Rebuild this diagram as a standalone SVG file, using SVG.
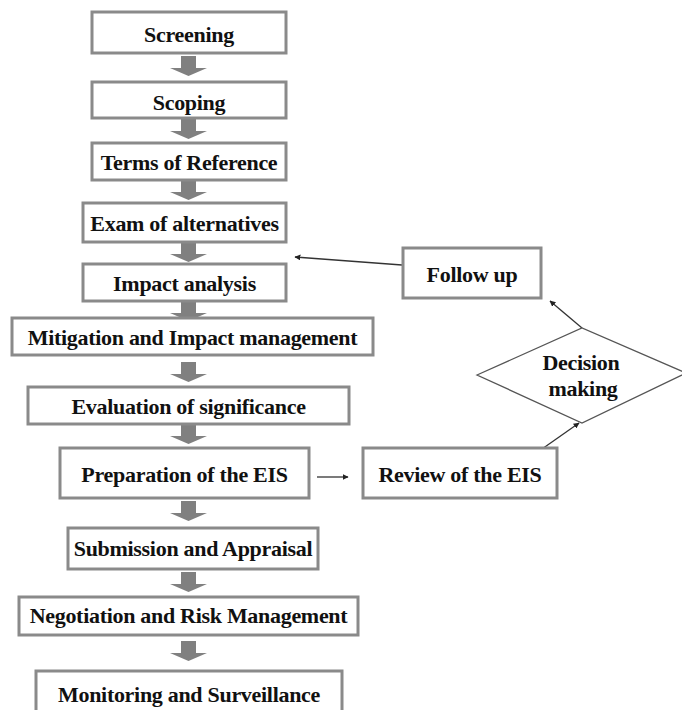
<svg xmlns="http://www.w3.org/2000/svg" xmlns:xlink="http://www.w3.org/1999/xlink" width="682" height="710" viewBox="0 0 682 710">
<style>
.box{fill:#fff;stroke:#8a8a8a;stroke-width:3}
.t{font-family:"Liberation Serif","Times New Roman",serif;font-weight:bold;font-size:22px;letter-spacing:-0.3px;fill:#111;text-anchor:middle}
.ln{stroke:#333;stroke-width:1.3;fill:none;marker-end:url(#ah)}
.dm{fill:#fff;stroke:#555;stroke-width:1.3}
</style>
<defs>
<marker id="ah" viewBox="0 0 10 10" refX="9" refY="5" markerWidth="6" markerHeight="6" markerUnits="userSpaceOnUse" orient="auto">
<path d="M0,0 L10,5 L0,10 z" fill="#222"/>
</marker>
<path id="blk" d="M181,0 h15 v12 h11 l-18.5,8 l-18.5,-8 h11 z" fill="#808080"/>
</defs>
<rect width="682" height="710" fill="#fff"/>
<g id="connectors">
<use xlink:href="#blk" transform="translate(0,56)"/>
<use xlink:href="#blk" transform="translate(0,119)"/>
<use xlink:href="#blk" transform="translate(0,180)"/>
<use xlink:href="#blk" transform="translate(0,242)"/>
<use xlink:href="#blk" transform="translate(0,301)"/>
<use xlink:href="#blk" transform="translate(0,362)"/>
<use xlink:href="#blk" transform="translate(0,424)"/>
<use xlink:href="#blk" transform="translate(0,501)"/>
<use xlink:href="#blk" transform="translate(0,572)"/>
<use xlink:href="#blk" transform="translate(0,641)"/>
<line class="ln" x1="402" y1="265" x2="295" y2="257"/>
<line class="ln" x1="317" y1="477" x2="348" y2="477"/>
<line class="ln" x1="542" y1="449" x2="579" y2="423"/>
<line class="ln" x1="582" y1="328" x2="550" y2="301"/>
</g>
<g id="screening"><rect class="box" x="92" y="12" width="194" height="41"/><text class="t" x="189" y="42">Screening</text></g>
<g id="scoping"><rect class="box" x="92" y="82" width="194" height="36"/><text class="t" x="189" y="110">Scoping</text></g>
<g id="terms"><rect class="box" x="92" y="143" width="194" height="37"/><text class="t" x="189" y="170">Terms of Reference</text></g>
<g id="exam"><rect class="box" x="83" y="203" width="203" height="39"/><text class="t" x="184.5" y="231">Exam of alternatives</text></g>
<g id="impact"><rect class="box" x="83" y="264" width="203" height="37"/><text class="t" x="184.5" y="290.5">Impact analysis</text></g>
<g id="mitigation"><rect class="box" x="12" y="318" width="361" height="37"/><text class="t" x="192.5" y="345">Mitigation and Impact management</text></g>
<g id="evaluation"><rect class="box" x="28" y="387" width="321" height="37"/><text class="t" x="188.5" y="414">Evaluation of significance</text></g>
<g id="preparation"><rect class="box" x="60" y="448" width="249" height="50"/><text class="t" x="184.5" y="481.5">Preparation of the EIS</text></g>
<g id="submission"><rect class="box" x="68" y="528" width="250" height="41"/><text class="t" x="193" y="556">Submission and Appraisal</text></g>
<g id="negotiation"><rect class="box" x="19" y="597" width="339" height="38"/><text class="t" x="188.5" y="623">Negotiation and Risk  Management</text></g>
<g id="monitoring"><rect class="box" x="36" y="671" width="306" height="44"/><text class="t" x="189" y="702">Monitoring and Surveillance</text></g>
<g id="followup"><rect class="box" x="403" y="248" width="138" height="50"/><text class="t" x="472" y="282">Follow up</text></g>
<g id="review"><rect class="box" x="363" y="448" width="194" height="50"/><text class="t" x="460" y="481.5">Review of the EIS</text></g>
<g id="decision"><polygon class="dm" points="477,375 582,328 686,373 582,423"/><text class="t" x="581" y="370">Decision</text><text class="t" x="583" y="396">making</text></g>
</svg>
